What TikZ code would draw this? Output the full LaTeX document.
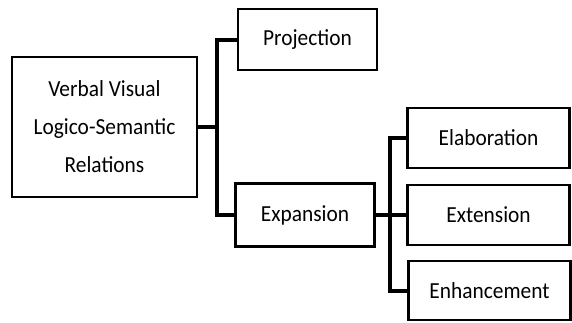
\documentclass[tikz,border=0pt]{standalone}
\usepackage{fontspec}
\setmainfont[FakeStretch=0.93]{Carlito}
\begin{document}
\begin{tikzpicture}[x=1pt,y=-1pt,
  box/.style={draw=black,line width=2.5pt,fill=white,inner sep=0pt,font=\fontsize{23}{38}\selectfont,align=center},
  conn/.style={draw=black,line width=4pt}]
\useasboundingbox (0,0) rectangle (572,322);
\node[box,minimum width=185pt,minimum height=140pt] (root) at (104.5,127) {Verbal Visual\\Logico-Semantic\\Relations};
\node[box,minimum width=139pt,minimum height=61pt] (proj) at (307.5,39.5) {Projection};
\node[box,minimum width=139pt,minimum height=63pt] (exp) at (305,215) {Expansion};
\node[box,minimum width=162pt,minimum height=60pt] (elab) at (488.5,138) {Elaboration};
\node[box,minimum width=162pt,minimum height=60pt] (ext) at (488.5,215) {Extension};
\node[box,minimum width=162pt,minimum height=59pt] (enh) at (489.5,290.5) {Enhancement};
\coordinate (j1) at (217,0);
\coordinate (j2) at (390,0);
\draw[conn] (root.east) -- (root.east -| j1);
\draw[conn] (proj.west) -| (j1 |- exp.west) -- (exp.west);
\draw[conn] (exp.east) -- (ext.west);
\draw[conn] (elab.west) -| (j2 |- enh.west) -- (enh.west);
\end{tikzpicture}
\end{document}
